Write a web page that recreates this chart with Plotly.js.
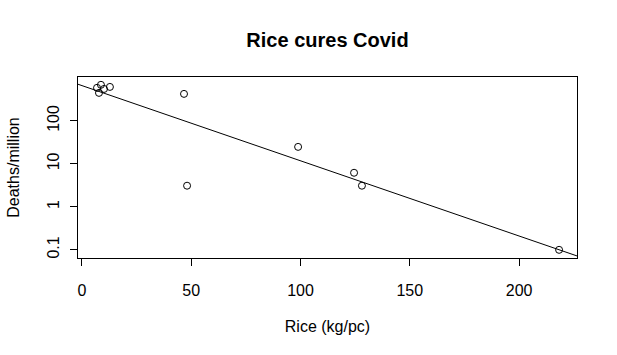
<!DOCTYPE html>
<html>
<head>
<meta charset="utf-8">
<script src="https://cdn.plot.ly/plotly-3.0.1.min.js"></script>
<style>html,body{margin:0;padding:0;background:#fff;}#plot{width:617px;height:355px;}</style>
</head>
<body>
<div id="plot"></div>
<script>
// Rice consumption (kg per capita) and Covid deaths per million
const rice = [6.9, 7.8, 8.7, 10.1, 12.8, 46.7, 48.1, 98.9, 124.5, 128.1, 218.3];
const deaths = [586, 447, 689, 552, 616, 424, 3.1, 24.8, 6.2, 3.1, 0.1];
const xTicks = [0, 50, 100, 150, 200];
const yTickVals = [0.1, 1, 10, 100];
const yTickText = ['0.1', '1', '10', '100'];

// least-squares fit of log10(deaths) on rice (as abline(lm(...)))
const ly = deaths.map(v => Math.log10(v));
const n = rice.length;
const mx = rice.reduce((a, b) => a + b, 0) / n;
const my = ly.reduce((a, b) => a + b, 0) / n;
let sxy = 0, sxx = 0;
for (let i = 0; i < n; i++) { sxy += (rice[i] - mx) * (ly[i] - my); sxx += (rice[i] - mx) ** 2; }
const slope = sxy / sxx, icpt = my - slope * mx;

const xRange = [-1.8, 226.5];
const yRange = [-1.19, 3.02];
const lineX = [xRange[0] - 10, xRange[1] + 10];
const lineY = lineX.map(x => Math.pow(10, icpt + slope * x));

const font = {family: 'Liberation Sans, Arial, sans-serif', size: 16, color: '#000'};

Plotly.newPlot('plot', [
  {x: lineX, y: lineY, mode: 'lines', line: {color: '#000', width: 1}, hoverinfo: 'skip'},
  {x: rice, y: deaths, mode: 'markers', marker: {symbol: 'circle-open', size: 7, color: '#000', line: {width: 1, color: '#000'}}}
], {
  width: 617, height: 355,
  margin: {l: 78, r: 40, t: 77, b: 97},
  paper_bgcolor: '#fff', plot_bgcolor: '#fff',
  showlegend: false,
  font: font,
  title: {text: 'Rice cures Covid', font: {family: 'Liberation Sans, Arial, sans-serif', size: 20, color: '#000', weight: 'bold'}, x: 0.5, xref: 'paper', y: 1, yref: 'container', yanchor: 'top', pad: {t: 33}},
  xaxis: {
    range: xRange, tickvals: xTicks, ticktext: xTicks.map(String),
    showgrid: false, zeroline: false, showline: true, mirror: true, linecolor: '#000', linewidth: 1,
    ticks: 'outside', ticklen: 7, tickcolor: '#000', tickwidth: 1, ticklabelstandoff: 11,
    tickfont: font,
    title: {text: 'Rice (kg/pc)', font: font, standoff: 22}
  },
  yaxis: {
    type: 'log', range: yRange, tickvals: yTickVals, ticktext: yTickText, tickangle: -90,
    showgrid: false, zeroline: false, showline: true, mirror: true, linecolor: '#000', linewidth: 1,
    ticks: 'outside', ticklen: 7, tickcolor: '#000', tickwidth: 1, ticklabelstandoff: 5,
    tickfont: font,
    title: {text: 'Deaths/million', font: font, standoff: 20}
  }
}, {displayModeBar: false, staticPlot: true});
</script>
</body>
</html>
